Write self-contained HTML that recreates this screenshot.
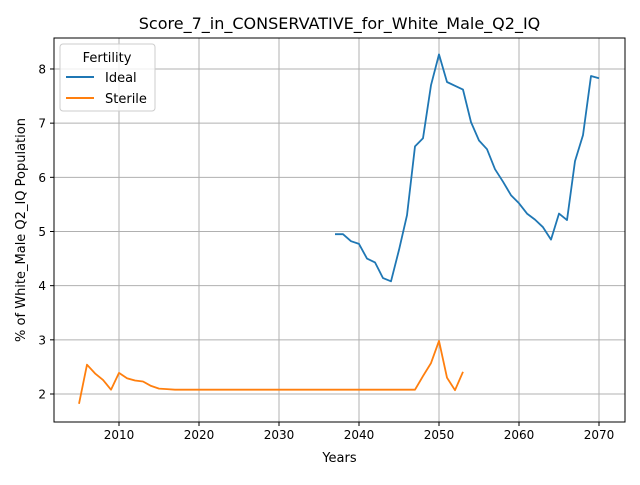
<!DOCTYPE html>
<html><head><meta charset="utf-8"><style>
body{margin:0;background:#fff;font-family:"Liberation Sans","DejaVu Sans",sans-serif}
</style></head><body>
<svg id="chart" width="640" height="480" xmlns="http://www.w3.org/2000/svg" font-family="DejaVu Sans, Liberation Sans, sans-serif">
<rect width="640" height="480" fill="#fff"/>
<g id="grid"></g>
<g id="lines"></g>
<rect x="54" y="38" width="571" height="384" fill="none" stroke="#000" stroke-width="1"/>
<g id="ticks"></g>
<text x="339.5" y="29" text-anchor="middle" font-size="16">Score_7_in_CONSERVATIVE_for_White_Male_Q2_IQ</text>
<text x="339.5" y="462" text-anchor="middle" font-size="13">Years</text>
<text transform="translate(25,230) rotate(-90)" text-anchor="middle" font-size="13">% of White_Male Q2_IQ Population</text>
<g>
<rect x="60" y="44" width="95" height="67" rx="3" fill="#fff" fill-opacity="0.8" stroke="#ccc"/>
<text x="107" y="62" text-anchor="middle" font-size="13">Fertility</text>
<g><line x1="66" y1="77" x2="94" y2="77" stroke="#1f77b4" stroke-width="2"/><text x="105" y="82" font-size="13">Ideal</text></g>
<g><line x1="66" y1="98" x2="94" y2="98" stroke="#ff7f0e" stroke-width="2"/><text x="105" y="103" font-size="13">Sterile</text></g>
</g>
</svg>
<script>
const idealYears=[2037,2038,2039,2040,2041,2042,2043,2044,2045,2046,2047,2048,2049,2050,2051,2052,2053,2054,2055,2056,2057,2058,2059,2060,2061,2062,2063,2064,2065,2066,2067,2068,2069,2070];
const idealValues=[4.95,4.95,4.82,4.77,4.5,4.43,4.14,4.08,4.66,5.3,6.57,6.72,7.7,8.27,7.76,7.69,7.62,7.02,6.68,6.52,6.15,5.92,5.67,5.52,5.33,5.22,5.08,4.85,5.33,5.21,6.3,6.78,7.87,7.83];
const sterileYears=[2005,2006,2007,2008,2009,2010,2011,2012,2013,2014,2015,2016,2017,2020,2030,2040,2047,2048,2049,2050,2051,2052,2053];
const sterileValues=[1.82,2.54,2.38,2.26,2.08,2.39,2.29,2.25,2.23,2.15,2.10,2.09,2.08,2.08,2.08,2.08,2.08,2.33,2.57,2.98,2.3,2.07,2.41];
const xTicks=[2010,2020,2030,2040,2050,2060,2070];
const yTicks=[2,3,4,5,6,7,8];
const NS="http://www.w3.org/2000/svg";
const L=54,R=625,T=38,B=422;
function xs(v){return 119+(v-2010)*8;}
function ys(v){return 394-(v-2)*54.17;}
function mk(tag,attrs,parent){const e=document.createElementNS(NS,tag);for(const k in attrs)e.setAttribute(k,attrs[k]);document.getElementById(parent).appendChild(e);return e;}
xTicks.forEach(t=>{const x=xs(t);
const g=mk('line',{x1:x,x2:x,y1:T,y2:B,stroke:'#b0b0b0','stroke-width':1},'grid');


mk('line',{x1:x,x2:x,y1:B,y2:B+4,stroke:'#000'},'ticks');
const tx=mk('text',{x:x,y:B+17,'text-anchor':'middle','font-size':12},'ticks');tx.textContent=t;

});
yTicks.forEach(t=>{const y=ys(t);
const g=mk('line',{x1:L,x2:R,y1:y,y2:y,stroke:'#b0b0b0','stroke-width':1},'grid');


mk('line',{x1:L-4,x2:L,y1:y,y2:y,stroke:'#000'},'ticks');
const tx=mk('text',{x:L-8,y:y+4.5,'text-anchor':'end','font-size':12},'ticks');tx.textContent=t;

});
function line(xsA,vs,color,name){const p=xsA.map((x,i)=>xs(x).toFixed(1)+','+ys(vs[i]).toFixed(1)).join(' ');
const e=mk('polyline',{points:p,fill:'none',stroke:color,'stroke-width':1.8,'stroke-linejoin':'round'},'lines');

}
line(idealYears,idealValues,'#1f77b4','ideal-line');
line(sterileYears,sterileValues,'#ff7f0e','sterile-line');
</script>
</body></html>
